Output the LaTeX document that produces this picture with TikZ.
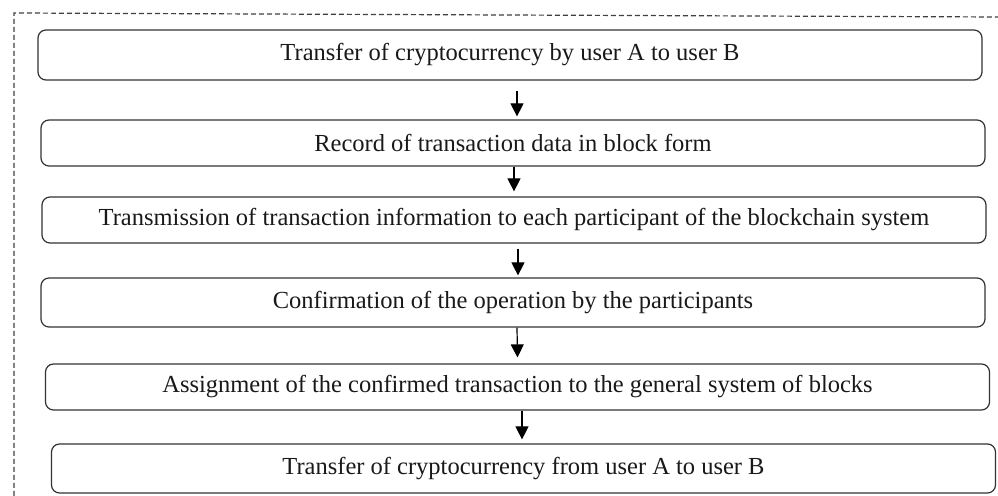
\documentclass[tikz,border=0pt]{standalone}
\usepackage{fontspec}
\setmainfont{Liberation Serif}
\usetikzlibrary{arrows.meta}

\begin{document}
\begin{tikzpicture}[x=0.5pt,y=-0.5pt,>={Triangle[length=6.5pt,width=6.5pt]},font=\fontsize{12.25}{14}\selectfont,
 stepbox/.style={draw=black!80,line width=0.6pt,rounded corners=4pt,minimum width=472pt,inner sep=0pt,text=black!90},
 frame/.style={draw=black!75,dashed,dash pattern=on 2.5pt off 1.5pt,line width=0.6pt},
 link/.style={->,line width=0.6pt}]
\useasboundingbox (0,0) rectangle (998,496);
\draw[frame] (14,496) -- (14,13) -- (998,17);
\node[stepbox,minimum height=25pt] (b1) at (510,55) {Transfer of cryptocurrency by user A to user B};
\node[stepbox,minimum height=23pt] (b2) at (513,143) {Record of transaction data in block form};
\node[stepbox,minimum height=23pt] (b3) at (514,220) {Transmission of transaction information to each participant of the blockchain system};
\node[stepbox,minimum height=24.5pt] (b4) at (513,302.5) {Confirmation of the operation by the participants};
\node[stepbox,minimum height=23pt] (b5) at (517.5,387) {Assignment of the confirmed transaction to the general system of blocks};
\node[stepbox,minimum height=24.5pt] (b6) at (523.5,468.5) {Transfer of cryptocurrency from user A to user B};
\draw[link] ([xshift=3.5pt,yshift=-5pt]b1.south) -- ([xshift=2pt,yshift=1.5pt]b2.north);
\draw[link] ([xshift=0.5pt]b2.south) -- ([yshift=2.5pt]b3.north);
\draw[link] ([xshift=2pt,yshift=-2.5pt]b3.south) -- ([xshift=2.5pt,yshift=1pt]b4.north);
\draw[link] ([xshift=2pt]b4.south) -- ([yshift=3pt]b5.north);
\draw[link] ([xshift=2.25pt]b5.south) -- ([yshift=2pt,xshift=-0.75pt]b6.north);
\end{tikzpicture}
\end{document}
